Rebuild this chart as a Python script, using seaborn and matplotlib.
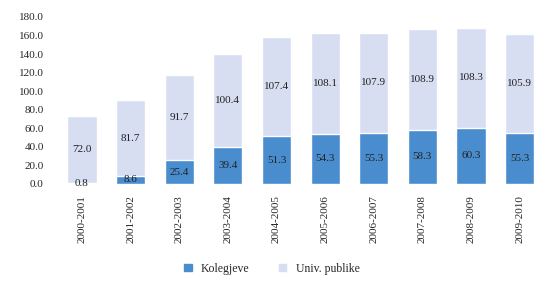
import matplotlib

matplotlib.use("Agg")
import matplotlib.pyplot as plt
import pandas as pd
import seaborn as sns
from matplotlib.patches import Patch

vitet = ["2000-2001", "2001-2002", "2002-2003", "2003-2004", "2004-2005",
         "2005-2006", "2006-2007", "2007-2008", "2008-2009", "2009-2010"]
kolegjeve = [0.8, 8.6, 25.4, 39.4, 51.3, 54.3, 55.3, 58.3, 60.3, 55.3]
univ_publike = [72.0, 81.7, 91.7, 100.4, 107.4, 108.1, 107.9, 108.9, 108.3, 105.9]

NGJYRA_KOL = "#4a8dcf"
NGJYRA_UNI = "#d8def2"

df = pd.DataFrame({"viti": vitet, "kol": kolegjeve, "uni": univ_publike})
df["total"] = df["kol"] + df["uni"]

sns.set_style("white")
plt.rcParams["font.family"] = ["Liberation Serif", "DejaVu Serif"]

fig = plt.figure(figsize=(5.44, 2.83), dpi=100)
ax = fig.add_axes([0.106, 0.35, 0.894, 0.59])

sns.barplot(data=df, x="viti", y="total", color=NGJYRA_UNI, width=0.6,
            saturation=1, ax=ax)
sns.barplot(data=df, x="viti", y="kol", color=NGJYRA_KOL, width=0.6,
            saturation=1, ax=ax)

# etiketat ne mes te cdo segmenti
for i, row in df.iterrows():
    ax.text(i, row["kol"] / 2, f"{row['kol']:.1f}", ha="center", va="center",
            fontsize=8, color="#222222")
    ax.text(i, row["kol"] + row["uni"] / 2, f"{row['uni']:.1f}", ha="center",
            va="center", fontsize=8, color="#222222")

ax.set_ylim(0, 180)
ax.set_yticks(range(0, 181, 20))
ax.set_yticklabels([f"{v:.1f}" for v in range(0, 181, 20)], fontsize=8)
ax.set_xticks(range(len(vitet)))
ax.set_xticklabels(vitet, rotation=90, fontsize=8)
ax.set_xlabel("")
ax.set_ylabel("")
ax.tick_params(axis="y", length=0, pad=10)
ax.tick_params(axis="x", length=0, pad=8)
sns.despine(ax=ax, left=True, bottom=True)

handles = [Patch(color=NGJYRA_KOL, label="Kolegjeve"),
           Patch(color=NGJYRA_UNI, label="Univ. publike")]
fig.legend(handles=handles, loc="center", bbox_to_anchor=(0.5, 0.05), ncol=2,
           frameon=False, fontsize=8.5, handlelength=0.6, handleheight=0.6,
           columnspacing=2.5)

fig.savefig("out.png", dpi=100)
